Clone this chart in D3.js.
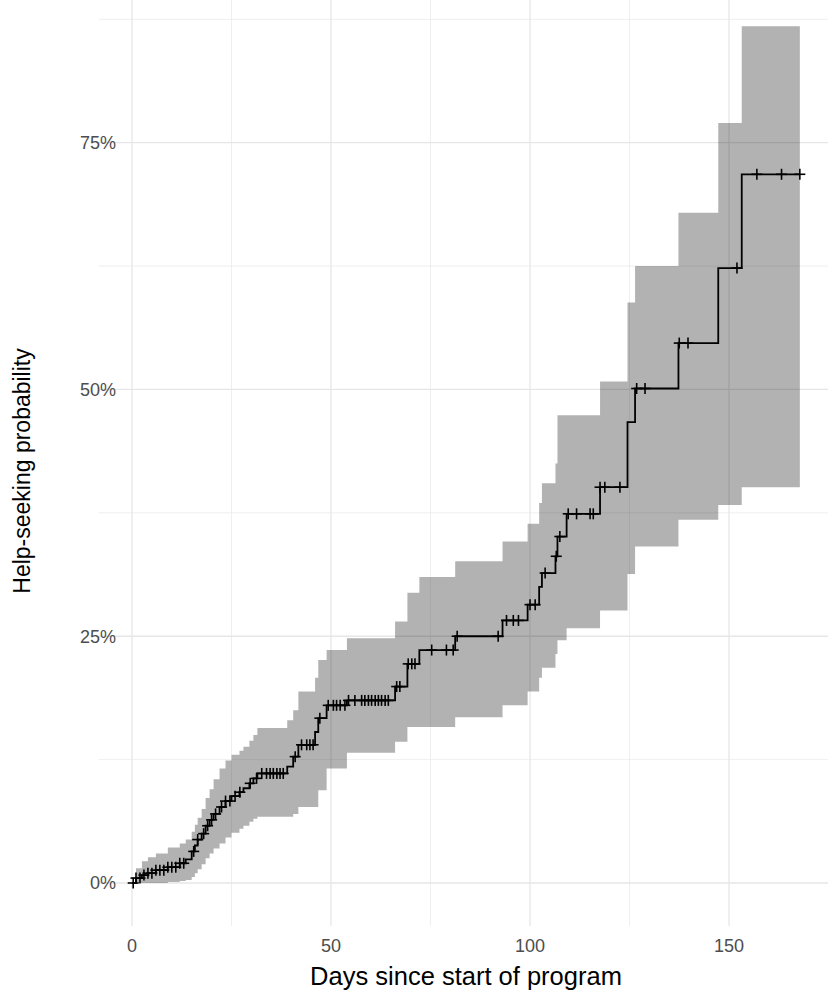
<!DOCTYPE html>
<html>
<head>
<meta charset="utf-8">
<script src="https://cdn.jsdelivr.net/npm/d3@7"></script>
<style>
  html, body { margin: 0; padding: 0; background: #fff; }
  svg { display: block; }
  text { font-family: "Liberation Sans", Arial, sans-serif; }
</style>
</head>
<body>
<svg id="chart" width="828" height="993"></svg>
<script>
// ---------------- data ----------------
const eventDays = [0, 1, 2.5, 4, 6, 9, 12, 13.5, 15, 15.8, 16.5, 17.5, 18.5, 19.5, 20.5, 22, 23.5, 25, 27, 28, 29.5, 30.5, 31.5,
  39, 40.5, 41.8, 46, 46.8, 48.9, 54, 66.1, 69.2, 72.2, 81.2, 93.1, 99.4, 102.3, 103, 106.4, 106.9, 109.2, 117.6,
  124.5, 126.4, 137.3, 147.3, 153.2];
const estimate = [0, 0.5, 0.8, 1.0, 1.3, 1.6, 2.0, 2.4, 3.2, 3.8, 4.4, 5.0, 5.8, 6.4, 7.0, 7.7, 8.3, 8.8, 9.2, 9.6, 10.1, 10.6, 11.1,
  11.8, 12.8, 14.0, 15.3, 16.7, 18.0, 18.5, 19.9, 22.2, 23.6, 25.0, 26.6, 28.2, 30.0, 31.4, 33.1, 35.1, 37.4, 40.1,
  46.7, 50.1, 54.7, 62.3, 71.8];
const lowerCI = [0, 0, 0, 0, 0, 0.1, 0.2, 0.3, 0.6, 1.0, 1.4, 1.9, 2.5, 3.0, 3.5, 4.0, 4.6, 5.1, 5.5, 5.8, 6.2, 6.5, 6.7,
  6.7, 7.0, 7.7, 7.7, 9.4, 11.6, 13.2, 14.3, 15.8, 15.8, 16.8, 18.0, 19.4, 20.8, 21.8, 23.2, 24.6, 25.8, 27.6,
  31.3, 34.1, 36.8, 38.3, 40.1];
const upperCI = [0, 1.5, 2.2, 2.6, 3.0, 3.6, 4.0, 4.4, 5.2, 5.9, 6.6, 7.5, 8.6, 9.5, 10.5, 11.6, 12.4, 13.0, 13.4, 13.8, 14.4, 15.0, 15.7,
  16.5, 17.5, 19.4, 20.8, 22.6, 23.6, 24.8, 26.5, 29.4, 31.0, 32.6, 34.6, 36.4, 38.5, 40.5, 42.5, 47.4, 47.4, 50.8,
  58.8, 62.5, 67.9, 77.0, 86.8];
const lastDay = 167.8;
const censorDays = [0.3, 1, 2, 3, 4, 5, 6, 7, 8, 9, 10, 11, 12, 13, 15.5, 16.5, 18, 19, 20, 21, 22.5, 23.5,
  24.6, 25.9, 27.1, 29.7, 31.3, 32.6, 33.8, 34.7, 35.5, 36.4, 37.2, 38.0, 41, 42.6, 43.9, 44.7, 45.5,
  47.2, 49.3, 50.6, 51.4, 52.3, 53.5, 54.4, 56, 57.7, 58.5, 59.4, 60.2, 61.1, 61.9, 62.7, 63.6, 64.4,
  66.5, 67.3, 69.4, 70.3, 71.1, 75.3, 79, 80.7, 81.7, 92, 94.1, 95.8, 97.1, 100, 101.3, 103.8, 106.6, 107.5,
  109.6, 111.7, 115.1, 115.9, 117.6, 118.8, 122.6, 126.8, 128.9, 137.5, 139.7, 152, 157, 163.2, 167.8];
const xTicks = [0, 50, 100, 150];
const xMinor = [25, 75, 125, 175];
const yTicks = [0, 25, 50, 75];
const yMinor = [12.5, 37.5, 62.5, 87.5];
const xTitle = "Days since start of program";
const yTitle = "Help-seeking probability";

// ---------------- layout ----------------
const W = 828, H = 993;
const svg = d3.select("#chart");
const x = d3.scaleLinear().domain([0, 150]).range([132, 729]);
const y = d3.scaleLinear().domain([0, 75]).range([883, 142.7]);
const panel = { left: 98.6, right: W, top: 0, bottom: 926 };

// gridlines
const g = svg.append("g");
g.selectAll(".vmin").data(xMinor).enter().append("line")
  .attr("x1", d => x(d)).attr("x2", d => x(d)).attr("y1", panel.top).attr("y2", panel.bottom)
  .attr("stroke", "#ebebeb").attr("stroke-width", 0.8);
g.selectAll(".hmin").data(yMinor).enter().append("line")
  .attr("y1", d => y(d)).attr("y2", d => y(d)).attr("x1", panel.left).attr("x2", panel.right)
  .attr("stroke", "#ebebeb").attr("stroke-width", 0.8);
g.selectAll(".vmaj").data(xTicks).enter().append("line")
  .attr("x1", d => x(d)).attr("x2", d => x(d)).attr("y1", panel.top).attr("y2", panel.bottom)
  .attr("stroke", "#e6e6e6").attr("stroke-width", 1.3);
g.selectAll(".hmaj").data(yTicks).enter().append("line")
  .attr("y1", d => y(d)).attr("y2", d => y(d)).attr("x1", panel.left).attr("x2", panel.right)
  .attr("stroke", "#e6e6e6").attr("stroke-width", 1.3);

// data table for step curves
const rows = eventDays.map((d, i) => ({ t: d, est: estimate[i], lo: lowerCI[i], hi: upperCI[i] }));
const lastRow = rows[rows.length - 1];
rows.push({ t: lastDay, est: lastRow.est, lo: lastRow.lo, hi: lastRow.hi });

// confidence band
const area = d3.area().curve(d3.curveStepAfter)
  .x(d => x(d.t)).y0(d => y(d.lo)).y1(d => y(d.hi));
svg.append("path").datum(rows).attr("d", area)
  .attr("fill", "#000").attr("fill-opacity", 0.3);

// estimate line
const line = d3.line().curve(d3.curveStepAfter).x(d => x(d.t)).y(d => y(d.est));
svg.append("path").datum(rows).attr("d", line)
  .attr("fill", "none").attr("stroke", "#000").attr("stroke-width", 1.8);

// censor marks
function stepVal(t) {
  const i = Math.max(0, d3.bisectRight(eventDays, t) - 1);
  return estimate[i];
}
const cs = 5.5;
const cg = svg.append("g").attr("stroke", "#000").attr("stroke-width", 1.6);
censorDays.forEach(t => {
  const cx = x(t), cy = y(stepVal(t));
  cg.append("line").attr("x1", cx - cs).attr("x2", cx + cs).attr("y1", cy).attr("y2", cy);
  cg.append("line").attr("x1", cx).attr("x2", cx).attr("y1", cy - cs).attr("y2", cy + cs);
});

// axis labels
svg.selectAll(".xt").data(xTicks).enter().append("text")
  .attr("x", d => x(d)).attr("y", 952)
  .attr("text-anchor", "middle").attr("font-size", 18).attr("fill", "#4d4d4d")
  .text(d => d);
svg.selectAll(".yt").data(yTicks).enter().append("text")
  .attr("x", 116).attr("y", d => y(d)).attr("dy", "0.36em")
  .attr("text-anchor", "end").attr("font-size", 18).attr("fill", "#4d4d4d")
  .text(d => d + "%");

// titles
svg.append("text").attr("x", 466).attr("y", 985)
  .attr("text-anchor", "middle").attr("font-size", 25.5).attr("fill", "#000")
  .text(xTitle);
svg.append("text").attr("transform", `translate(30, 471) rotate(-90)`)
  .attr("text-anchor", "middle").attr("font-size", 23).attr("fill", "#000")
  .text(yTitle);
</script>
</body>
</html>
